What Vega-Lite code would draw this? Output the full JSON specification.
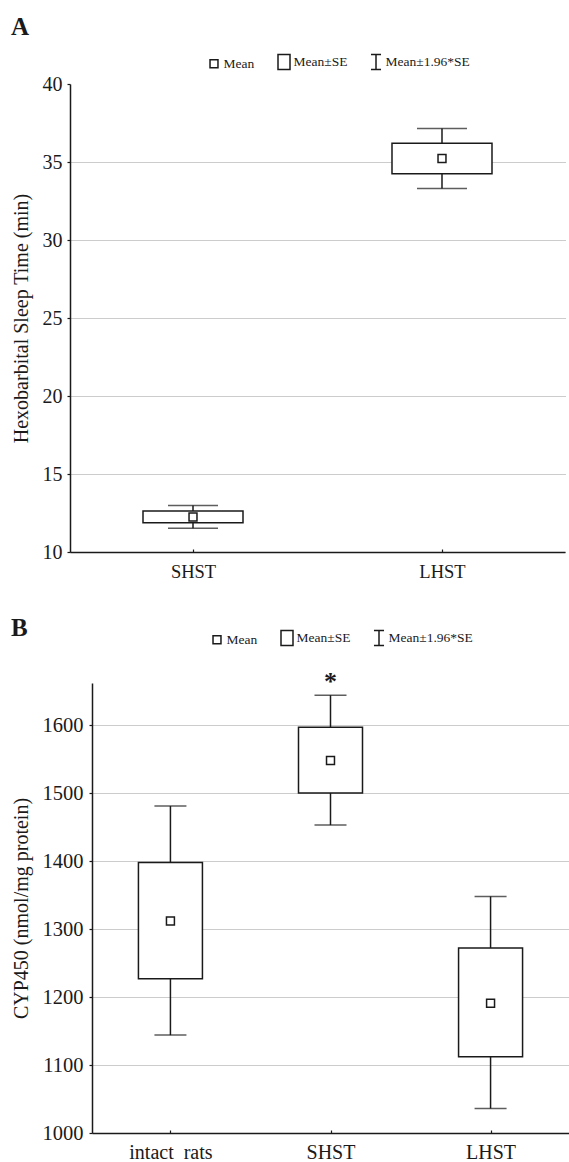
{
  "$schema": "https://vega.github.io/schema/vega-lite/v6.json",
  "padding": {"left": 11, "top": 14, "right": 0, "bottom": 0},
  "bounds": "flush",
  "spacing": 131,
  "config": {
    "view": {"stroke": null},
    "font": "Liberation Serif",
    "axis": {
      "domainColor": "#1a1a1a", "domainWidth": 1.5, "tickColor": "#1a1a1a", "tickWidth": 1.2,
      "labelColor": "#1a1a1a", "titleColor": "#1a1a1a", "labelFont": "Liberation Serif", "titleFont": "Liberation Serif",
      "titleFontWeight": "normal", "gridColor": "#999999", "gridDash": [1, 1], "gridWidth": 1
    },
    "title": {"font": "Liberation Serif", "color": "#1a1a1a"}
  },
  "resolve": {"scale": {"x": "independent", "y": "independent", "shape": "independent"}, "legend": {"shape": "independent"}, "axis": {"x": "independent", "y": "independent"}},
  "vconcat": [
    {
      "width": 495,
      "height": 468,
      "title": {"text": "A", "anchor": "start", "frame": "bounds", "fontSize": 25, "fontWeight": "bold", "offset": 14},
      "data": {"values": [
        {"group": "SHST", "mean": 12.25, "se_lo": 11.87, "se_hi": 12.63, "ci_lo": 11.52, "ci_hi": 12.98},
        {"group": "LHST", "mean": 35.22, "se_lo": 34.25, "se_hi": 36.2, "ci_lo": 33.3, "ci_hi": 37.15}
      ]},
      "encoding": {
        "x": {"field": "group", "type": "nominal", "sort": null, "scale": {"type": "point", "padding": 0.494},
          "axis": {"title": null, "labelAngle": 0, "labelFontSize": 18.5, "tickSize": -3, "labelPadding": 13, "grid": false}}
      },
      "layer": [
        {
          "mark": {"type": "rule", "stroke": "#1a1a1a", "strokeWidth": 1.5},
          "encoding": {
            "y": {"field": "ci_lo", "type": "quantitative", "title": "Hexobarbital Sleep Time (min)",
              "scale": {"domain": [10, 40], "nice": false, "zero": false},
              "axis": {"values": [10, 15, 20, 25, 30, 35, 40], "grid": true, "labelFontSize": 20, "tickSize": 3, "labelPadding": 5,
                "titleFontSize": 20, "titlePadding": 11,
                "gridOpacity": {"condition": {"test": "datum.value >= 40", "value": 0}, "value": 1}}},
            "y2": {"field": "ci_hi"}
          }
        },
        {
          "mark": {"type": "tick", "color": "#1a1a1a", "size": 50, "thickness": 1.5, "orient": "horizontal"},
          "encoding": {"y": {"field": "ci_lo", "type": "quantitative", "title": "Hexobarbital Sleep Time (min)"}}
        },
        {
          "mark": {"type": "tick", "color": "#1a1a1a", "size": 50, "thickness": 1.5, "orient": "horizontal"},
          "encoding": {"y": {"field": "ci_hi", "type": "quantitative", "title": "Hexobarbital Sleep Time (min)"}}
        },
        {
          "mark": {"type": "bar", "width": 100, "fill": "white", "stroke": "#1a1a1a", "strokeWidth": 1.5},
          "encoding": {
            "y": {"field": "se_lo", "type": "quantitative", "title": "Hexobarbital Sleep Time (min)"},
            "y2": {"field": "se_hi"}
          }
        },
        {
          "mark": {"type": "point", "filled": true, "fill": "white", "stroke": "#1a1a1a", "strokeWidth": 1.5, "size": 225, "opacity": 1},
          "encoding": {
            "y": {"field": "mean", "type": "quantitative", "title": "Hexobarbital Sleep Time (min)"},
            "shape": {"datum": "Mean", "type": "nominal",
              "scale": {"domain": ["Mean", "Mean±SE", "Mean±1.96*SE"],
                "range": ["M-0.53,-0.53H0.53V0.53H-0.53Z", "M-0.8,-1H0.8V1H-0.8Z", "M-0.67,-1H0.67M0,-1V1M-0.67,1H0.67"]},
              "legend": {"title": null, "orient": "none", "legendX": 135.5, "legendY": -30.5, "direction": "horizontal",
                "symbolSize": 225, "labelFont": "Liberation Serif", "labelFontSize": 13.5, "labelColor": "#1a1a1a", "labelOffset": 1, "columnPadding": 20,
                "encode": {"symbols": {"update": {"fill": {"value": "white"}, "stroke": {"value": "#1a1a1a"}, "strokeWidth": {"value": 1.5}, "opacity": {"value": 1}, "size": {"value": 225}}}}}}
          }
        }
      ]
    },
    {
      "spacing": 21,
      "bounds": "flush",
      "hconcat": [
        {
          "width": 1,
          "height": 450,
          "data": {"values": []},
          "mark": "point"
        },
        {
          "width": 477,
          "height": 450,
          "title": {"text": "B", "anchor": "start", "frame": "bounds", "fontSize": 25, "fontWeight": "bold", "offset": 28},
          "data": {"values": [
            {"group": "intact\u00a0 rats", "mean": 1312, "se_lo": 1227, "se_hi": 1398, "ci_lo": 1144, "ci_hi": 1481, "sig": ""},
            {"group": "SHST", "mean": 1548, "se_lo": 1500, "se_hi": 1597, "ci_lo": 1453, "ci_hi": 1644, "sig": "*"},
            {"group": "LHST", "mean": 1191, "se_lo": 1112, "se_hi": 1272, "ci_lo": 1036, "ci_hi": 1348, "sig": ""}
          ]},
          "encoding": {
            "x": {"field": "group", "type": "nominal", "sort": null, "scale": {"type": "point", "padding": 0.49},
              "axis": {"title": null, "labelAngle": 0, "labelFontSize": 20, "tickSize": -3, "labelPadding": 12, "grid": false}}
          },
          "layer": [
            {
              "mark": {"type": "rule", "stroke": "#1a1a1a", "strokeWidth": 1.5},
              "encoding": {
                "y": {"field": "ci_lo", "type": "quantitative", "title": "CYP450 (nmol/mg protein)",
                  "scale": {"domain": [1000, 1662], "nice": false, "zero": false},
                  "axis": {"values": [1000, 1100, 1200, 1300, 1400, 1500, 1600], "format": "d", "grid": true, "labelFontSize": 20.5, "tickSize": 3, "labelPadding": 6,
                    "titleFontSize": 20, "titlePadding": 11}},
                "y2": {"field": "ci_hi"}
              }
            },
            {
              "mark": {"type": "tick", "color": "#1a1a1a", "size": 32, "thickness": 1.5, "orient": "horizontal"},
              "encoding": {"y": {"field": "ci_lo", "type": "quantitative", "title": "CYP450 (nmol/mg protein)"}}
            },
            {
              "mark": {"type": "tick", "color": "#1a1a1a", "size": 32, "thickness": 1.5, "orient": "horizontal"},
              "encoding": {"y": {"field": "ci_hi", "type": "quantitative", "title": "CYP450 (nmol/mg protein)"}}
            },
            {
              "mark": {"type": "bar", "width": 64, "fill": "white", "stroke": "#1a1a1a", "strokeWidth": 1.5},
              "encoding": {
                "y": {"field": "se_lo", "type": "quantitative", "title": "CYP450 (nmol/mg protein)"},
                "y2": {"field": "se_hi"}
              }
            },
            {
              "mark": {"type": "text", "font": "Liberation Serif", "fontSize": 26, "fontWeight": "bold", "color": "#1a1a1a", "baseline": "alphabetic", "dy": -5},
              "encoding": {
                "y": {"field": "ci_hi", "type": "quantitative", "title": "CYP450 (nmol/mg protein)"},
                "text": {"field": "sig"}
              }
            },
            {
              "mark": {"type": "point", "filled": true, "fill": "white", "stroke": "#1a1a1a", "strokeWidth": 1.5, "size": 225, "opacity": 1},
              "encoding": {
                "y": {"field": "mean", "type": "quantitative", "title": "CYP450 (nmol/mg protein)"},
                "shape": {"datum": "Mean", "type": "nominal",
                  "scale": {"domain": ["Mean", "Mean±SE", "Mean±1.96*SE"],
                    "range": ["M-0.53,-0.53H0.53V0.53H-0.53Z", "M-0.8,-1H0.8V1H-0.8Z", "M-0.67,-1H0.67M0,-1V1M-0.67,1H0.67"]},
                  "legend": {"title": null, "orient": "none", "legendX": 138.5, "legendY": -53.5, "direction": "horizontal",
                    "symbolSize": 225, "labelFont": "Liberation Serif", "labelFontSize": 13.5, "labelColor": "#1a1a1a", "labelOffset": 1, "columnPadding": 20,
                    "encode": {"symbols": {"update": {"fill": {"value": "white"}, "stroke": {"value": "#1a1a1a"}, "strokeWidth": {"value": 1.5}, "opacity": {"value": 1}, "size": {"value": 225}}}}}}
              }
            }
          ]
        }
      ]
    }
  ]
}
